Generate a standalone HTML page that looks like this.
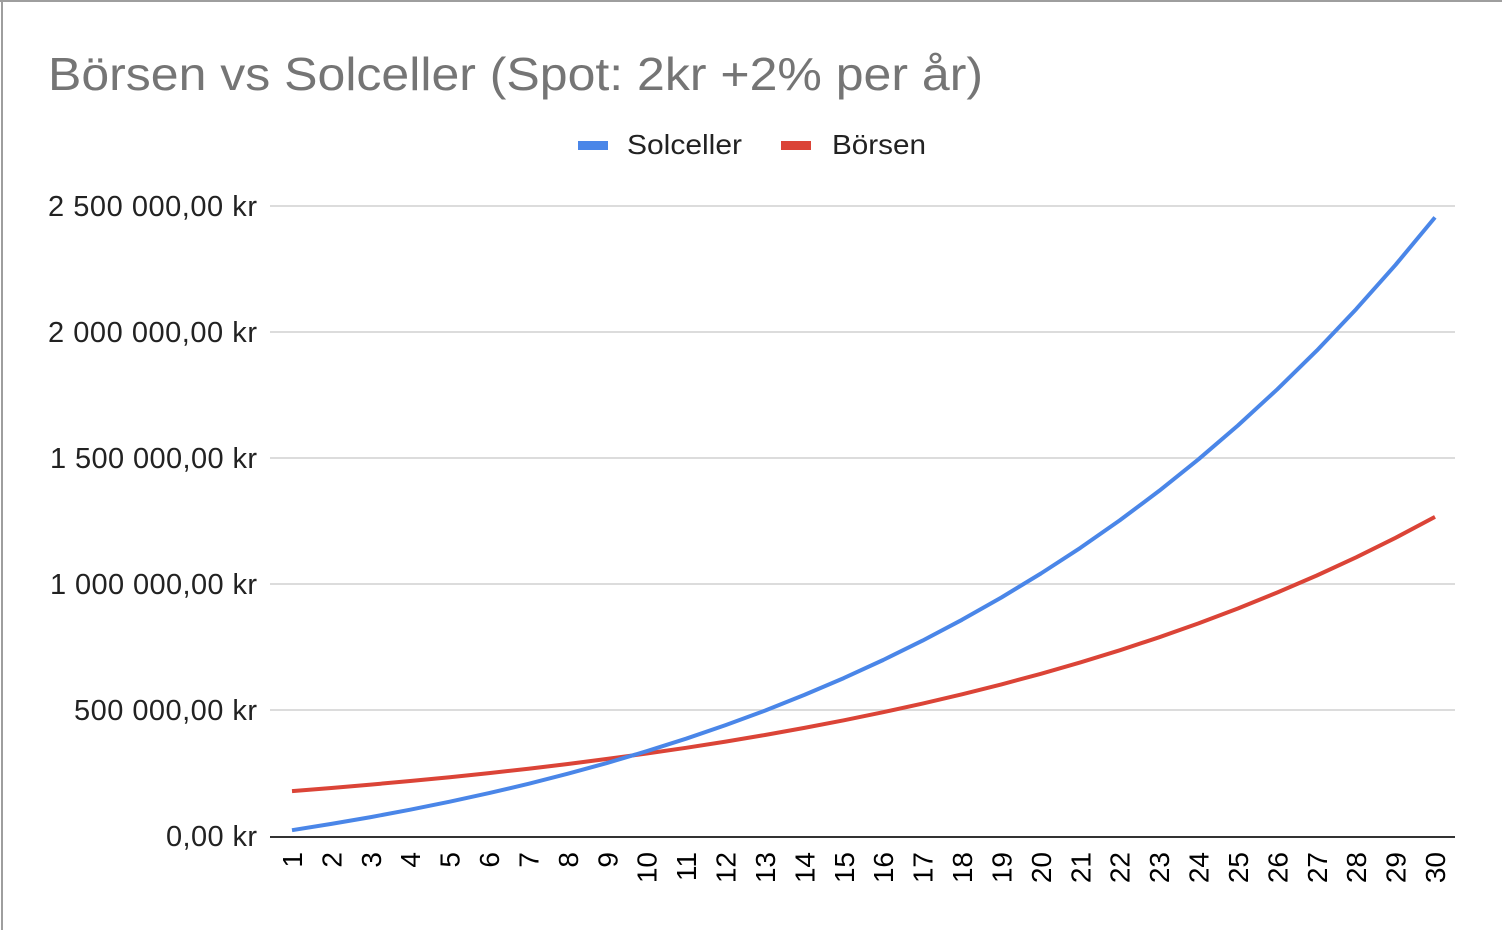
<!DOCTYPE html>
<html><head><meta charset="utf-8"><style>
html,body{margin:0;padding:0;background:#fff;}
svg{display:block;font-family:"Liberation Sans",sans-serif;}
</style></head><body>
<svg id="s" width="1502" height="930" xmlns="http://www.w3.org/2000/svg">
<rect x="0" y="0" width="1502" height="930" fill="#fff"/>
<line x1="0" y1="1" x2="1502" y2="1" stroke="#9e9e9e" stroke-width="2"/>
<line x1="2" y1="0" x2="2" y2="930" stroke="#9e9e9e" stroke-width="2"/>
<text x="48" y="90" font-size="46" fill="#757575" textLength="935" lengthAdjust="spacingAndGlyphs">Börsen vs Solceller (Spot: 2kr +2% per år)</text>
<rect x="578" y="141" width="30" height="9" fill="#4a86e8"/>
<text x="627" y="154" font-size="28" fill="#222" textLength="115" lengthAdjust="spacingAndGlyphs">Solceller</text>
<rect x="781" y="141" width="30" height="9" fill="#db4437"/>
<text x="832" y="154" font-size="28" fill="#222" textLength="94" lengthAdjust="spacingAndGlyphs">Börsen</text>
<g stroke="#d0d0d0" stroke-width="1.5">
<line x1="270" y1="206" x2="1455" y2="206"/>
<line x1="270" y1="332" x2="1455" y2="332"/>
<line x1="270" y1="458" x2="1455" y2="458"/>
<line x1="270" y1="584" x2="1455" y2="584"/>
<line x1="270" y1="710" x2="1455" y2="710"/>
</g>
<g font-size="29" fill="#222" text-anchor="end" lengthAdjust="spacingAndGlyphs">
<text x="257" y="216" textLength="209">2 500 000,00 kr</text>
<text x="257" y="342" textLength="209">2 000 000,00 kr</text>
<text x="257" y="468" textLength="207">1 500 000,00 kr</text>
<text x="257" y="594" textLength="207">1 000 000,00 kr</text>
<text x="257" y="720" textLength="183">500 000,00 kr</text>
<text x="257" y="846" textLength="91">0,00 kr</text>
</g>
<g id="xl" font-size="28" fill="#000" text-anchor="end"></g>
<path id="pb" fill="none" stroke="#db4437" stroke-width="4" stroke-linejoin="round"/>
<path id="ps" fill="none" stroke="#4a86e8" stroke-width="4" stroke-linejoin="round"/>
<line x1="270" y1="837" x2="1455" y2="837" stroke="#333" stroke-width="2"/>
</svg>
<script>
var x0=292,dx=(1435-292)/29,y0=836,k=126/500000;
var ns="http://www.w3.org/2000/svg",xl=document.getElementById('xl');
var pb="",ps="",S=0;
for(var n=1;n<=30;n++){
 var x=x0+(n-1)*dx;
 var B=178000*Math.pow(1.07,n-1);
 S=S*1.065+23000*Math.pow(1.02,n-1);
 pb+=(n==1?"M":"L")+x.toFixed(1)+","+(y0-B*k).toFixed(1);
 ps+=(n==1?"M":"L")+x.toFixed(1)+","+(y0-S*k).toFixed(1);
 var t=document.createElementNS(ns,'text');
 t.setAttribute('transform','translate('+(x+10).toFixed(1)+',852) rotate(-90)');
 t.textContent=n;xl.appendChild(t);
}
document.getElementById('pb').setAttribute('d',pb);
document.getElementById('ps').setAttribute('d',ps);
</script>
</body></html>
